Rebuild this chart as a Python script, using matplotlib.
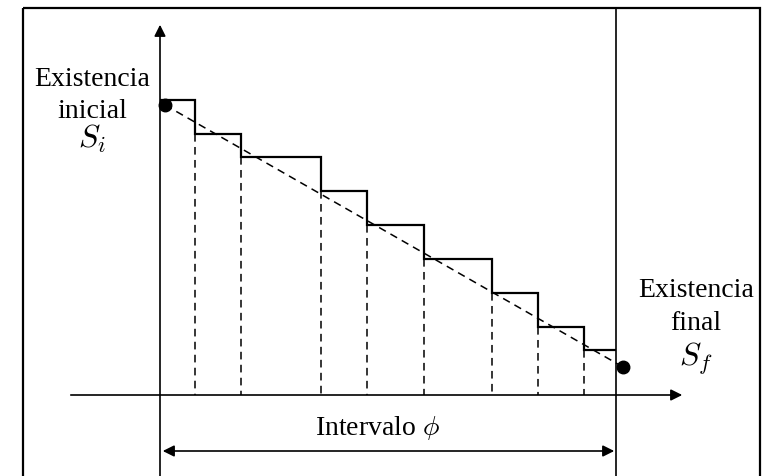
import matplotlib
matplotlib.use('Agg')
import matplotlib.pyplot as plt
from matplotlib.patches import Rectangle

# step diagram (pixel units, y grows downward)
step_edges = [160, 195, 241, 321, 367, 424, 492, 538, 584, 616]
step_levels = [100, 134, 157, 191, 225, 259, 293, 327, 350]
axis_y = 395
start_pt = (165, 105)
end_pt = (623, 367)

left_label = ['Existencia', 'inicial', r'$S_i$']
right_label = ['Existencia', 'final', r'$S_f$']
bottom_label = r'Intervalo $\phi$'

plt.rcParams['mathtext.fontset'] = 'cm'
plt.rcParams['font.family'] = 'Liberation Serif'

fig = plt.figure(figsize=(7.72, 4.76), dpi=100)
ax = fig.add_axes([0, 0, 1, 1])
ax.set_xlim(0, 772)
ax.set_ylim(476, 0)
ax.axis('off')

# frame
ax.add_patch(Rectangle((23, 8), 737, 480, fill=False, lw=1.6, ec='black'))

# axes with arrows
ax.annotate('', xy=(160, 22), xytext=(160, 480),
            arrowprops=dict(arrowstyle='-|>', color='black', lw=1.2, mutation_scale=17))
ax.annotate('', xy=(685, axis_y), xytext=(68, axis_y),
            arrowprops=dict(arrowstyle='-|>', color='black', lw=1.2, mutation_scale=17))
# right boundary line
ax.plot([616, 616], [8, 480], color='black', lw=1.2)

# steps
ax.stairs(step_levels, step_edges, baseline=None, color='black', lw=1.6)
ax.vlines(step_edges[1:-1], step_levels[1:], axis_y, colors='black',
          linestyles=(0, (5, 3.5)), lw=1.1)

# trend line and end points
ax.plot([start_pt[0], end_pt[0]], [start_pt[1], end_pt[1]], color='black',
        lw=1.1, ls=(0, (5, 3.5)))
ax.plot([start_pt[0], end_pt[0]], [start_pt[1], end_pt[1]], 'o', color='black', ms=9)

# interval arrow
ax.annotate('', xy=(617, 451), xytext=(160, 451),
            arrowprops=dict(arrowstyle='<|-|>', color='black', lw=1.2, mutation_scale=17))

# labels
for txt, yb, fs in zip(left_label, [86, 118, 148], [20, 20, 23]):
    ax.text(92, yb, txt, ha='center', va='baseline', fontsize=fs)
for txt, yb, fs in zip(right_label, [297, 330, 366], [20, 20, 23]):
    ax.text(696, yb, txt, ha='center', va='baseline', fontsize=fs)
ax.text(377, 435, bottom_label, ha='center', va='baseline', fontsize=20)

fig.savefig('out.png', dpi=100)
